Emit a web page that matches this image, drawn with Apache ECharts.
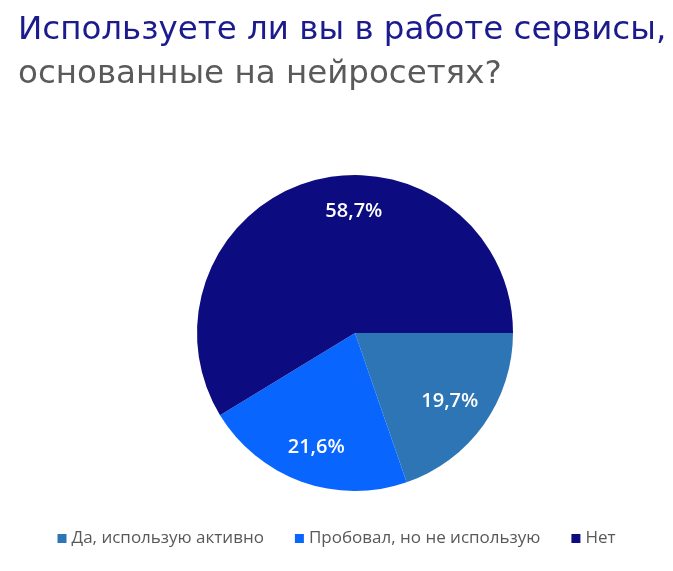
<!DOCTYPE html>
<html>
<head>
<meta charset="utf-8">
<script src="https://cdn.jsdelivr.net/npm/echarts@6/dist/echarts.min.js"></script>
<style>
  html, body { margin: 0; padding: 0; background: #fff; }
  #chart { width: 673px; height: 571px; }
</style>
</head>
<body>
<div id="chart"></div>
<script>
const FONT = '"Open Sans", "Noto Sans", sans-serif';
const TITLE_FONT = '"DejaVu Sans", "Open Sans", sans-serif';

const categories = ['Да, использую активно', 'Пробовал, но не использую', 'Нет'];
const shares = [19.7, 21.6, 58.7];
const colors = ['#2E75B6', '#0866FF', '#0C0C80'];
// label nudges so the percentages sit where the original puts them
const labelOffsets = [[28, 21], [-11, 37], [21, -43]];

const chart = echarts.init(document.getElementById('chart'), null, { renderer: 'canvas' });

chart.setOption({
    animation: false,
    title: [
        {
            text: 'Используете ли вы в работе сервисы,',
            left: 13,
            top: 9,
            textStyle: { fontFamily: TITLE_FONT, fontSize: 32.5, fontWeight: 'normal', color: '#1B1B8E' },
        },
        {
            text: 'основанные на нейросетях?',
            left: 13,
            top: 53,
            textStyle: { fontFamily: TITLE_FONT, fontSize: 32.5, fontWeight: 'normal', color: '#5A5A5A' },
        },
    ],
    legend: {
        bottom: 19,
        left: 'center',
        icon: 'rect',
        itemWidth: 9,
        itemHeight: 9,
        itemGap: 31,
        textStyle: { fontFamily: FONT, fontSize: 17, color: '#595959' },
        data: categories,
    },
    series: [{
        type: 'pie',
        center: [355, 333],
        radius: [0, 158],
        startAngle: 0,
        clockwise: true,
        label: {
            show: true,
            position: 'inside',
            fontFamily: FONT,
            fontSize: 20,
            fontWeight: 600,
            color: '#ffffff',
            formatter: p => String(p.value).replace('.', ',') + '%',
        },
        labelLine: { show: false },
        emphasis: { disabled: true },
        data: categories.map((name, i) => ({
            name,
            value: shares[i],
            itemStyle: { color: colors[i] },
            label: { offset: labelOffsets[i] },
        })),
    }],
});
</script>
</body>
</html>
